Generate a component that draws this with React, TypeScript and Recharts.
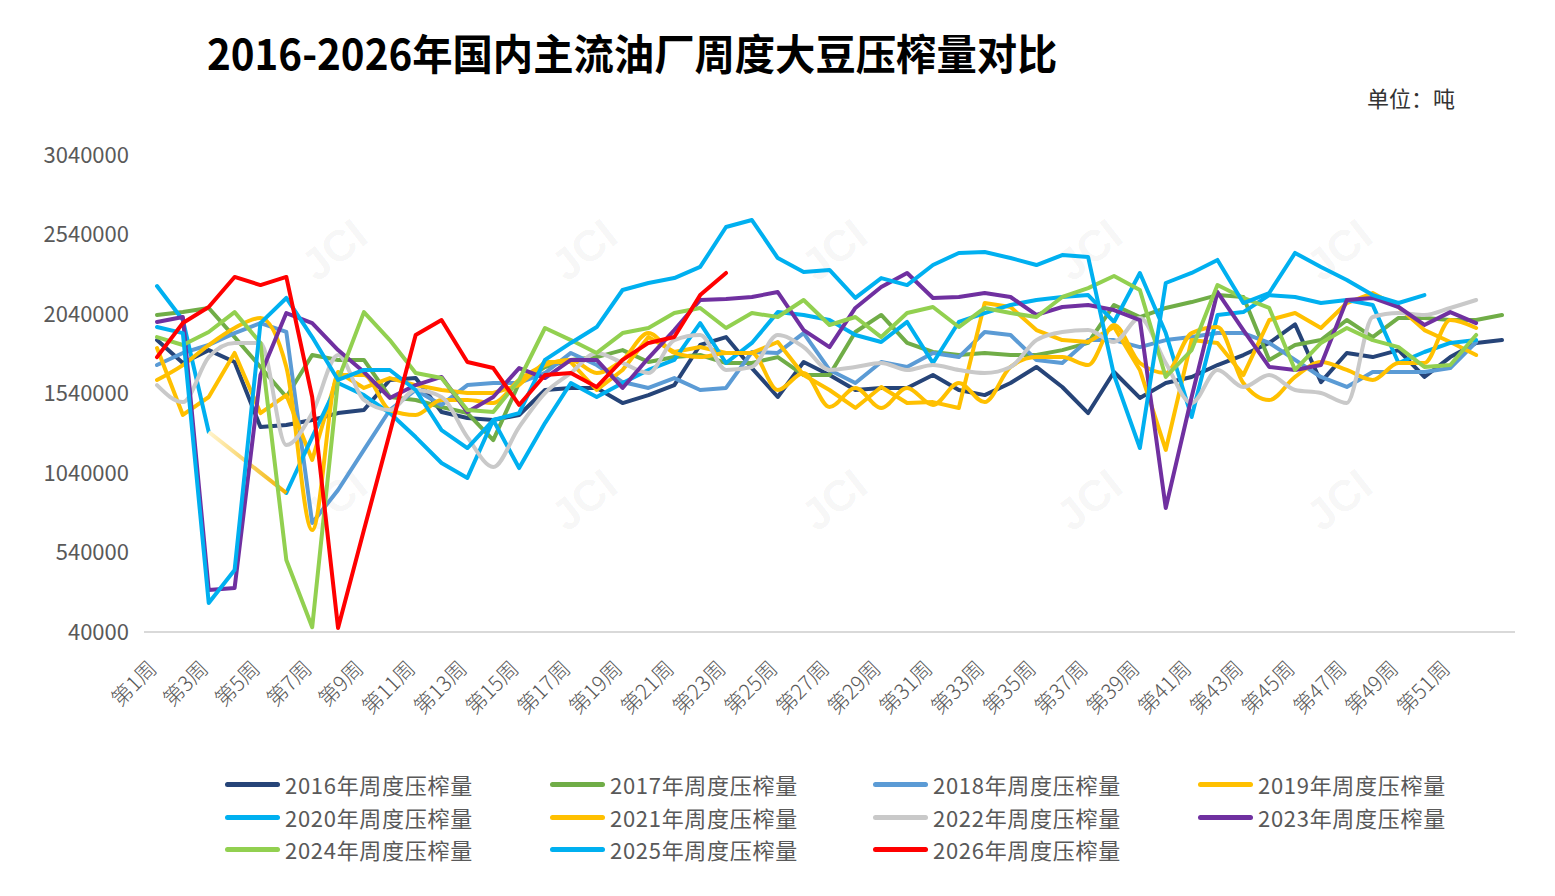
import React from "react";
import { LineChart, Line, XAxis, YAxis } from "recharts";

// 周次（第53周无标签）
const weeks = Array.from({ length: 52 }, (_, i) => `第${i + 1}周`).concat([""]);

const yTicks = [40000, 540000, 1040000, 1540000, 2040000, 2540000, 3040000];

const s2016 = [1876000, 1732000, 1813000, 1738000, 1329000, 1342000, 1373000, 1417000, 1436000, 1625000, 1637000, 1424000, 1386000, 1373000, 1405000, 1562000, 1575000, 1575000, 1480000, 1530000, 1593000, 1845000, 1895000, 1700000, 1518000, 1738000, 1656000, 1562000, 1575000, 1575000, 1656000, 1562000, 1530000, 1606000, 1707000, 1581000, 1417000, 1675000, 1512000, 1606000, 1644000, 1719000, 1782000, 1858000, 1975000, 1612000, 1795000, 1769000, 1813000, 1644000, 1769000, 1858000, 1876000];
const s2017 = [2034000, 2052000, 2078000, 1895000, 1707000, 1518000, 1782000, 1751000, 1751000, 1518000, 1499000, 1455000, 1417000, 1247000, 1606000, 1707000, 1751000, 1769000, 1813000, 1738000, 1769000, 1782000, 1732000, 1732000, 1769000, 1656000, 1656000, 1927000, 2034000, 1858000, 1801000, 1782000, 1795000, 1782000, 1782000, 1813000, 1858000, 2097000, 2021000, 2078000, 2115000, 2159000, 2147000, 1751000, 1845000, 1876000, 2002000, 1895000, 2015000, 2015000, 2002000, 2002000, 2034000];
const s2018 = [1719000, 1795000, 1845000, 1920000, 1983000, 1927000, 726000, 933000, 1185000, 1436000, 1562000, 1468000, 1593000, 1606000, 1606000, 1669000, 1795000, 1719000, 1612000, 1575000, 1637000, 1562000, 1575000, 1801000, 1795000, 1920000, 1688000, 1606000, 1738000, 1707000, 1795000, 1769000, 1927000, 1908000, 1751000, 1732000, 1876000, 1876000, 1832000, 1876000, 1895000, 1920000, 1920000, 1858000, 1751000, 1644000, 1581000, 1675000, 1675000, 1675000, 1700000, 1864000];
const s2019 = [1826000, 1405000, 1518000, 1795000, 1417000, 1530000, 1122000, 1675000, 1575000, 1637000, 1593000, 1562000, 1543000, 1543000, 1593000, 1738000, 1738000, 1562000, 1688000, 1895000, 1801000, 1832000, 1795000, 1795000, 1864000, 1656000, 1562000, 1449000, 1581000, 1480000, 1486000, 1449000, 2109000, 2084000, 1939000, 1876000, 1864000, 1958000, 1688000, 1185000, 1876000, 1858000, 1656000, 2002000, 2046000, 1952000, 2109000, 2172000, 2084000, 1939000, 1864000, 1782000];
const s2020 = [2216000, 2002000, 1298000, null, null, 914000, 1266000, 1606000, 1530000, 1417000, 1266000, 1103000, 1009000, 1373000, 1071000, 1354000, 1606000, 1518000, 1606000, 1688000, 1751000, 1983000, 1732000, 1858000, 2052000, 2034000, 2002000, 1908000, 1864000, 1990000, 1732000, 1990000, 2046000, 2097000, 2128000, 2147000, 2159000, 1990000, 2298000, 1920000, 1392000, 2034000, 2052000, 2159000, 2147000, 2109000, 2128000, 2097000, 1732000, 1801000, 1858000, 1876000];
const s2021 = [1625000, 1719000, 1845000, 1952000, 2015000, 1707000, 681000, 1656000, 1656000, 1436000, 1405000, 1499000, 1499000, 1480000, 1625000, 1719000, 1751000, 1669000, 1751000, 1920000, 1795000, 1769000, 1795000, 1795000, 1562000, 1669000, 1455000, 1575000, 1449000, 1575000, 1468000, 1606000, 1486000, 1707000, 1769000, 1769000, 1719000, 1971000, 1732000, 1669000, 1920000, 1958000, 1606000, 1499000, 1644000, 1738000, 1688000, 1625000, 1732000, 1732000, 2002000, 1952000];
const s2022 = [1593000, 1486000, 1769000, 1858000, 1858000, 1216000, 1417000, 1782000, 1499000, 1436000, 1562000, 1518000, 1266000, 1078000, 1329000, 1543000, 1669000, 1795000, 1732000, 1669000, 1876000, 1908000, 1688000, 1707000, 1908000, 1832000, 1688000, 1707000, 1732000, 1688000, 1719000, 1688000, 1669000, 1707000, 1876000, 1927000, 1939000, 1864000, 2015000, 1732000, 1480000, 1688000, 1581000, 1656000, 1562000, 1543000, 1480000, 2021000, 2046000, 2034000, 2078000, 2128000];
const s2023 = [1990000, 2021000, 304000, 317000, 1656000, 2046000, 1983000, 1813000, 1675000, 1512000, 1593000, 1644000, 1424000, 1518000, 1700000, 1637000, 1751000, 1751000, 1575000, 1763000, 1939000, 2128000, 2134000, 2147000, 2178000, 1939000, 1832000, 2078000, 2210000, 2298000, 2141000, 2147000, 2172000, 2147000, 2034000, 2084000, 2097000, 2065000, 2002000, 820000, 1518000, 2178000, 1939000, 1707000, 1688000, 1719000, 2128000, 2141000, 2084000, 1971000, 2052000, 1983000];
const s2024 = [1895000, 1845000, 1927000, 2052000, 1858000, 493000, 70000, 1625000, 2052000, 1876000, 1669000, 1637000, 1436000, 1424000, 1625000, 1952000, 1876000, 1795000, 1920000, 1952000, 2046000, 2078000, 1952000, 2046000, 2021000, 2128000, 1971000, 2021000, 1895000, 2046000, 2084000, 1958000, 2078000, 2046000, 2021000, 2147000, 2203000, 2279000, 2191000, 1644000, 1813000, 2222000, 2141000, 2078000, 1688000, 1858000, 1952000, 1876000, 1832000, 1707000, 1719000, 1908000];
const s2025 = [1958000, 1920000, 222000, 430000, 1983000, 2141000, 1895000, 1625000, 1688000, 1688000, 1562000, 1310000, 1197000, 1373000, 1417000, 1751000, 1858000, 1958000, 2191000, 2235000, 2266000, 2336000, 2587000, 2631000, 2392000, 2304000, 2317000, 2141000, 2266000, 2222000, 2348000, 2424000, 2430000, 2392000, 2348000, 2411000, 2398000, 1656000, 1197000, 2235000, 2298000, 2380000, 2109000, 2172000, 2424000, 2336000, 2254000, 2159000, 2109000, 2159000];
const s2026 = [1769000, 1983000, 2084000, 2273000, 2222000, 2273000, 1518000, 65000, 681000, 1291000, 1908000, 2002000, 1738000, 1700000, 1468000, 1656000, 1669000, 1581000, 1751000, 1858000, 1895000, 2159000, 2298000];

const series = [
  { key: "y2016", name: "2016年周度压榨量", color: "#264478", values: s2016 },
  { key: "y2017", name: "2017年周度压榨量", color: "#70AD47", values: s2017 },
  { key: "y2018", name: "2018年周度压榨量", color: "#5B9BD5", values: s2018 },
  { key: "y2019", name: "2019年周度压榨量", color: "#FFC000", values: s2019 },
  { key: "y2020", name: "2020年周度压榨量", color: "#00B0F0", values: s2020 },
  { key: "y2021", name: "2021年周度压榨量", color: "#FFC000", values: s2021, smooth: true },
  { key: "y2022", name: "2022年周度压榨量", color: "#C9C9C9", values: s2022, smooth: true },
  { key: "y2023", name: "2023年周度压榨量", color: "#7030A0", values: s2023 },
  { key: "y2024", name: "2024年周度压榨量", color: "#92D050", values: s2024 },
  { key: "y2025", name: "2025年周度压榨量", color: "#00B0F0", values: s2025 },
  { key: "y2026", name: "2026年周度压榨量", color: "#FF0000", values: s2026 },
];

const data = weeks.map((week, i) => {
  const row: any = { week };
  series.forEach((s) => {
    row[s.key] = s.values[i] ?? null;
  });
  // 2020年春节缺数段的连线
  row.gap2020 = i === 2 || i === 5 ? s2020[i] : null;
  return row;
});

const FONT = '"Noto Sans CJK SC", "Noto Sans", sans-serif';

const WeekTick = ({ x, y, payload }: any) => {
  if (!payload.value) return null;
  const tx = x + 1;
  const ty = y + 30;
  return (
    <text
      x={tx}
      y={ty}
      textAnchor="end"
      fill="#595959"
      fontSize={21}
      fontWeight={300}
      fontFamily={FONT}
      transform={`rotate(-45 ${tx} ${ty})`}
    >
      {payload.value}
    </text>
  );
};

const marks = [
  [340, 250], [590, 250], [840, 250], [1095, 250], [1345, 250],
  [340, 500], [590, 500], [840, 500], [1095, 500], [1345, 500],
];

export default function App() {
  const legendCols = [225, 550, 873, 1198];
  const legendRows = [786, 819, 851];

  return (
    <div
      style={{
        position: "fixed",
        left: 0,
        top: 0,
        width: 1555,
        height: 896,
        background: "#fff",
        fontFamily: FONT,
        overflow: "hidden",
      }}
    >
      {/* watermark */}
      {marks.map(([mx, my], i) => (
        <div
          key={i}
          style={{
            position: "absolute",
            left: mx - 40,
            top: my - 25,
            fontSize: 44,
            fontWeight: 700,
            color: "rgba(0,0,0,0.05)",
            transform: "rotate(-38deg)",
            fontFamily: "Liberation Sans, sans-serif",
          }}
        >
          JCI
        </div>
      ))}

      <div
        style={{
          position: "absolute",
          left: 207,
          top: 27,
          fontSize: 42,
          fontWeight: 700,
          lineHeight: "50px",
          color: "#000",
          whiteSpace: "nowrap",
          transform: "scaleX(0.96)",
          transformOrigin: "left center",
        }}
      >
        2016-2026年国内主流油厂周度大豆压榨量对比
      </div>
      <div
        style={{
          position: "absolute",
          left: 1367,
          top: 85,
          fontSize: 22,
          lineHeight: "24px",
          color: "#333",
        }}
      >
        单位：吨
      </div>

      <div style={{ position: "absolute", left: 0, top: 0 }}>
        <LineChart
          width={1555}
          height={896}
          data={data}
          margin={{ top: 155, right: 40, bottom: 184, left: 0 }}
        >
          <defs>
            <linearGradient id="gapGrad" x1="0" y1="0" x2="1" y2="0">
              <stop offset="0%" stopColor="#FFF4CC" />
              <stop offset="100%" stopColor="#F2B200" />
            </linearGradient>
          </defs>
          <XAxis
            dataKey="week"
            interval={1}
            height={80}
            padding={{ left: 13, right: 13 }}
            tickLine={false}
            axisLine={{ stroke: "#D9D9D9", strokeWidth: 2 }}
            tick={<WeekTick />}
          />
          <YAxis
            type="number"
            domain={[40000, 3040000]}
            ticks={yTicks}
            width={144}
            axisLine={false}
            tickLine={false}
            tickMargin={9}
            tick={{ fill: "#595959", fontSize: 22, fontFamily: FONT }}
          />
          {series.map((s) => (
            <React.Fragment key={s.key}>
              <Line
                dataKey={s.key}
                name={s.name}
                type={s.smooth ? "monotone" : "linear"}
                stroke={s.color}
                strokeWidth={4}
                strokeLinejoin="round"
                strokeLinecap="round"
                dot={false}
                activeDot={false}
                isAnimationActive={false}
              />
              {s.key === "y2020" && (
                <Line
                  dataKey="gap2020"
                  type="linear"
                  stroke="url(#gapGrad)"
                  strokeWidth={4}
                  connectNulls
                  dot={false}
                  activeDot={false}
                  legendType="none"
                  isAnimationActive={false}
                />
              )}
            </React.Fragment>
          ))}
        </LineChart>
      </div>

      {/* legend */}
      {series.map((s, i) => {
        const col = i % 4;
        const row = Math.floor(i / 4);
        return (
          <div
            key={s.key}
            style={{
              position: "absolute",
              left: legendCols[col],
              top: legendRows[row] - 16,
              height: 28,
              display: "flex",
              alignItems: "center",
              whiteSpace: "nowrap",
            }}
          >
            <div
              style={{
                width: 55,
                height: 5,
                borderRadius: 3,
                background: s.color,
                marginRight: 5,
              }}
            />
            <span
              style={{
                fontSize: 22,
                color: "#595959",
                lineHeight: "28px",
                letterSpacing: 0.7,
              }}
            >
              {s.name}
            </span>
          </div>
        );
      })}
    </div>
  );
}
